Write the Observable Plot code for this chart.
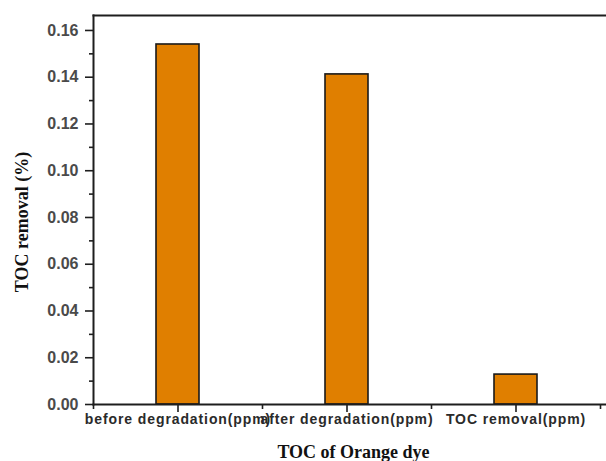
<!DOCTYPE html>
<html>
<head>
<meta charset="utf-8">
<script src="https://cdn.jsdelivr.net/npm/d3@7"></script>
<script src="https://cdn.jsdelivr.net/npm/@observablehq/plot@0.6"></script>
<style>
  html, body { margin: 0; padding: 0; background: #fff; }
</style>
</head>
<body>
<div id="chart"></div>
<script>
const categories = ["before degradation(ppm)", "after degradation(ppm)", "TOC removal(ppm)"];
const values = [0.154, 0.1412, 0.0128];
const yTicks = [0, 0.02, 0.04, 0.06, 0.08, 0.10, 0.12, 0.14, 0.16];
const yMinorTicks = [0.01, 0.03, 0.05, 0.07, 0.09, 0.11, 0.13, 0.15];
const xTitle = "TOC of Orange dye";
const yTitle = "TOC removal (%)";

const data = categories.map((c, i) => ({category: c, value: values[i]}));
const axisColor = "#1e1e1e";
const noLabel = () => "";

const chart = Plot.plot({
  width: 606,
  height: 461,
  marginLeft: 93,
  marginRight: 0,
  marginTop: 15,
  marginBottom: 57,
  style: {background: "#fff", overflow: "visible"},
  x: {domain: categories, range: [93, 600], padding: 0},
  y: {domain: [0, 0.1664]},
  marks: [
    Plot.barY(data, {
      x: "category", y: "value",
      insetLeft: 63, insetRight: 63,
      fill: "#e07f00", stroke: "#1a1a1a", strokeWidth: 1.6
    }),
    Plot.frame({anchor: "top", stroke: axisColor, strokeWidth: 2}),
    Plot.frame({anchor: "left", stroke: axisColor, strokeWidth: 2}),
    Plot.frame({anchor: "bottom", stroke: axisColor, strokeWidth: 2}),
    Plot.axisY({
      ticks: yTicks, tickSize: 8, tickPadding: 7, strokeWidth: 1.6, stroke: axisColor,
      tickFormat: d => d.toFixed(2), label: null,
      fontSize: 16, fontWeight: "bold", fill: "#4a4a4a", fontFamily: "Liberation Sans, Arial, sans-serif"
    }),
    Plot.axisY({ticks: yMinorTicks, tickSize: 4, tickFormat: noLabel, label: null, strokeWidth: 1.6, stroke: axisColor}),
    Plot.axisX({
      tickSize: 8, tickPadding: 2, strokeWidth: 1.6, stroke: axisColor, label: null,
      fontSize: 14, fontWeight: "bold", fill: "#2a2a2a", fontFamily: "Liberation Sans, Arial, sans-serif"
    }),
    Plot.axisX({tickSize: 5, dx: -84.5, tickFormat: noLabel, label: null, strokeWidth: 1.6, stroke: axisColor}),
    Plot.axisX({ticks: [categories[2]], tickSize: 5, dx: 84.5, tickFormat: noLabel, label: null, strokeWidth: 1.6, stroke: axisColor}),
    Plot.text([yTitle], {
      frameAnchor: "left", textAnchor: "middle", lineAnchor: "middle", dx: -71, dy: 12, rotate: -90,
      fontSize: 18, fontWeight: "bold", fontFamily: "Liberation Serif, Times New Roman, serif", fill: "#111"
    }),
    Plot.text([xTitle], {
      frameAnchor: "bottom", dy: 53, dx: 3.5,
      fontSize: 18, fontWeight: "bold", fontFamily: "Liberation Serif, Times New Roman, serif", fill: "#111"
    })
  ]
});

chart.querySelectorAll("g[aria-label='x-axis tick label'] text").forEach(t => t.setAttribute("letter-spacing", "0.9"));
document.getElementById("chart").appendChild(chart);
</script>
</body>
</html>
